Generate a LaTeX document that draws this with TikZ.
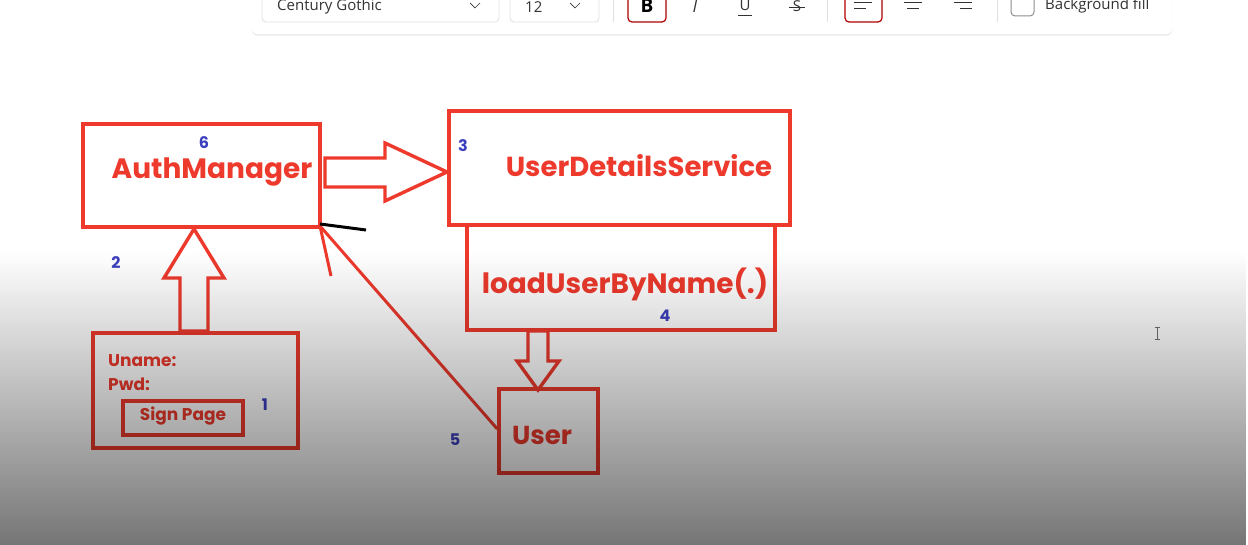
\documentclass[tikz,border=0pt]{standalone}
\usepackage{fontspec}
\setmainfont{Open Sans}
\newfontfamily\cg{Poppins}
\usetikzlibrary{fadings,shadows}
\definecolor{rd}{HTML}{EE3A2D}
\definecolor{bl}{HTML}{3C40BE}
\definecolor{tb}{HTML}{333333}
\tikzfading[name=darkfade, top color=transparent!100, bottom color=transparent!0]
\tikzset{
  box/.style={draw=rd, line width=3.4pt, inner sep=0pt},
  lbl/.style={text=rd, font=\cg\bfseries, inner sep=0pt},
  num/.style={text=bl, font=\cg\bfseries\fontsize{16}{16}\selectfont, inner sep=0pt},
  blk/.style={draw=rd, line width=3.4pt, fill=white, line join=miter},
  tbbox/.style={draw=black!12, line width=0.8pt, rounded corners=4pt},
  tbsel/.style={draw=red!70!black, line width=1.2pt, rounded corners=4pt},
}
\begin{document}
\begin{tikzpicture}[x=1pt,y=-1pt]
\useasboundingbox (0,0) rectangle (1248,545);
\fill[white] (0,0) rectangle (1248,545);
% toolbar
\fill[white, drop shadow={opacity=0.12, shadow xshift=0pt, shadow yshift=-2pt}, rounded corners=6pt] (252,-12) rectangle (1172,34);
\draw[tbbox, fill=white] (262,-8) rectangle (499,22);
\node[anchor=west, inner sep=0pt, font=\fontsize{15}{15}\selectfont, text=tb] (fontname) at (277,7) {Century Gothic};
\draw[tb, line width=0.7pt] (470,3) -- (475,8) -- (480,3);
\draw[tbbox, fill=white] (510,-8) rectangle (599,22);
\node[anchor=west, inner sep=0pt, font=\fontsize{15}{15}\selectfont, text=tb] (fsize) at (525,7) {12};
\draw[tb, line width=0.7pt] (570,3) -- (575,8) -- (580,3);
\draw[black!12, line width=0.8pt] (613,-4) -- (613,22);
\draw[tbsel] (628,-8) rectangle (666,22);
\node[inner sep=0pt, font=\bfseries\fontsize{19}{19}\selectfont, text=black] (bbtn) at (647,6) {B};
\node[inner sep=0pt, font=\itshape\fontsize{17}{17}\selectfont, text=tb] (ibtn) at (695,6) {I};
\node[inner sep=0pt, font=\fontsize{15}{15}\selectfont, text=tb] (ubtn) at (745,5) {U};
\draw[tb, line width=0.7pt] (738,15) -- (752,15);
\node[inner sep=0pt, font=\fontsize{15}{15}\selectfont, text=tb] (sbtn) at (797,6) {S};
\draw[tb, line width=0.7pt] (789,7) -- (805,7);
\draw[black!12, line width=0.8pt] (827,-4) -- (827,22);
\draw[tbsel] (845,-8) rectangle (882,22);
\draw[tb, line width=1pt] (854,3) -- (872,3) (854,9) -- (866,9);
\draw[tb, line width=1pt] (904,3) -- (922,3) (907,9) -- (919,9);
\draw[tb, line width=1pt] (954,3) -- (972,3) (960,9) -- (972,9);
\draw[black!12, line width=0.8pt] (997,-4) -- (997,22);
\draw[black!45, line width=1pt, rounded corners=4pt] (1011,-6) rectangle (1034,16);
\node[anchor=west, inner sep=0pt, font=\fontsize{15}{15}\selectfont, text=tb] (bgfill) at (1045,6) {Background fill};

% boxes
\node[box, minimum width=237pt, minimum height=103pt] (auth) at (201.5,175.5) {};
\node[lbl, font=\cg\bfseries\fontsize{28}{28}\selectfont] (authT) at (212,172) {AuthManager};
\node[num] (n6) at (204,143) {6};

\node[box, minimum width=341pt, minimum height=114pt] (uds) at (619.5,168) {};
\node[lbl, font=\cg\bfseries\fontsize{27.5}{28}\selectfont] (udsT) at (639,166) {UserDetailsService};
\node[num] (n3) at (463,146) {3};

\node[box, minimum width=308pt, minimum height=105pt] (load) at (621,277.5) {};
\node[lbl, font=\cg\bfseries\fontsize{28}{28}\selectfont] (loadT) at (625,284) {loadUserByName(.)};
\node[num] (n4) at (665,316) {4};

\node[box, minimum width=205pt, minimum height=115pt] (sign) at (195.5,390.5) {};
\node[lbl, anchor=west, font=\cg\bfseries\fontsize{17}{17}\selectfont] (uname) at (108,361) {Uname:};
\node[lbl, anchor=west, font=\cg\bfseries\fontsize{17}{17}\selectfont] (pwd) at (108,384) {Pwd:};
\node[box, minimum width=120pt, minimum height=34pt] (inner) at (183,418) {};
\node[lbl, font=\cg\bfseries\fontsize{17}{17}\selectfont] (signT) at (183,416) {Sign Page};
\node[num] (n1) at (265,405) {1};
\node[num] (n2) at (116,263) {2};

\node[box, minimum width=99pt, minimum height=84pt] (user) at (548.5,431) {};
\node[lbl, font=\cg\bfseries\fontsize{26}{26}\selectfont] (userT) at (542,435) {User};
\node[num] (n5) at (455,440) {5};

% block arrows
\draw[blk] (325,158) -- (385,158) -- (385,143) -- (447,172) -- (385,201) -- (385,187) -- (325,187) -- cycle;
\draw[blk] (180,331) -- (180,278) -- (164,278) -- (194,229) -- (224,278) -- (208,278) -- (208,331) -- cycle;
\draw[blk] (528,331) -- (528,361) -- (517,361) -- (538,390) -- (559,361) -- (548,361) -- (548,331) -- cycle;

% line arrow from user to auth
\coordinate (corner) at (320,226);
\coordinate (barb) at (331,276);
\draw[rd, line width=3pt] (user.west) ++(0,-2) -- (corner);
\draw[rd, line width=3pt] (corner) -- (barb);
\coordinate (blk1) at (366,230);
\draw[black, line width=3pt] (corner) ++(0,-2) -- (blk1);

% cursor
\draw[black!55, line width=0.8pt] (1157,327) -- (1157,339) (1154.5,327) -- (1159.5,327) (1154.5,339) -- (1159.5,339);

% video darkening overlay
\fill[black, opacity=0.54, path fading=darkfade] (0,252) rectangle (1248,545);
\end{tikzpicture}
\end{document}
